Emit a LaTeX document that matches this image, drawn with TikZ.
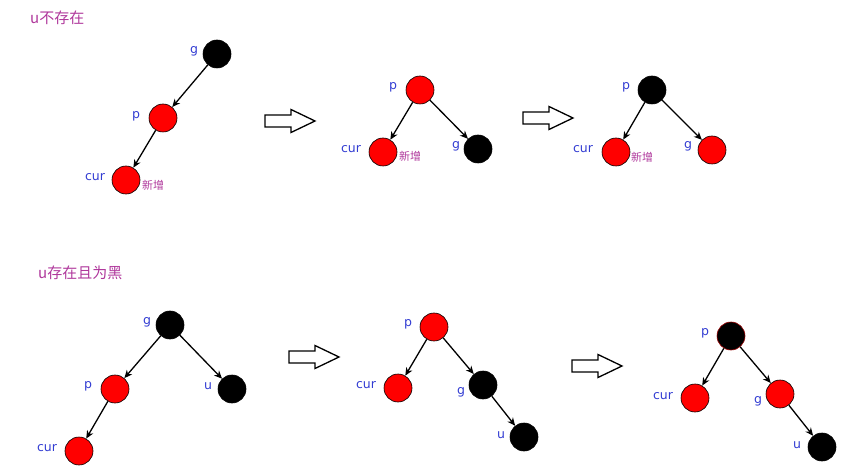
\documentclass[tikz,border=0pt]{standalone}
\usepackage{fontspec}
\newfontfamily\cjk{Noto Sans CJK SC}
\newfontfamily\lat{DejaVu Sans}
\usetikzlibrary{arrows.meta}
\definecolor{lblblue}{RGB}{50,60,210}
\definecolor{ttlpurple}{RGB}{175,55,155}
\tikzset{
  rb/.style={circle,draw=black,line width=0.6pt,minimum size=28pt,inner sep=0pt},
  rednode/.style={rb,fill=red},
  blacknode/.style={rb,fill=black},
  lbl/.style={font=\lat\fontsize{12.5}{12.5}\selectfont,text=lblblue,inner sep=0pt},
  newlbl/.style={font=\cjk\fontsize{11}{11}\selectfont,text=ttlpurple,inner sep=0pt},
  ttl/.style={font=\cjk\fontsize{15}{15}\selectfont,text=ttlpurple,inner sep=0pt,anchor=west},
  edge/.style={line width=1.3pt,-{Stealth[length=8pt,width=7pt,inset=2.5pt]}},
  hollow/.pic={\draw[line width=1.3pt,fill=white,line join=miter]
    (-25,-6) -- (1,-6) -- (1,-11.5) -- (25,0) -- (1,11.5) -- (1,6) -- (-25,6) -- cycle;},
}
\begin{document}
\begin{tikzpicture}[x=1pt,y=-1pt]
\useasboundingbox (0,0) rectangle (841,473);
% ---------- titles
\node[ttl] (t1) at (30,18) {u不存在};
\node[ttl] (t2) at (38,273) {u存在且为黑};
% ---------- top-left tree
\node[blacknode] (g1) at (217,54) {};
\node[rednode] (p1) at (163,118) {};
\node[rednode] (c1) at (126,180) {};
\node[lbl] (g1l) at (194,51) {g};
\node[lbl] (p1l) at (136,116) {p};
\node[lbl] (c1l) at (95,177) {cur};
\node[newlbl] (n1) at (153,185) {新增};
\draw[edge] (g1) -- (p1);
\draw[edge] (p1) -- (c1);
% ---------- arrow 1
\pic (a1) at (290,121) {hollow};
% ---------- top-middle tree
\node[rednode] (p2) at (420,90) {};
\node[rednode] (c2) at (383,152) {};
\node[blacknode] (g2) at (478,149) {};
\node[lbl] (p2l) at (393,87) {p};
\node[lbl] (c2l) at (351,149) {cur};
\node[lbl] (g2l) at (456,146) {g};
\node[newlbl] (n2) at (410,156) {新增};
\draw[edge] (p2) -- (c2);
\draw[edge] (p2) -- (g2);
% ---------- arrow 2
\pic (a2) at (548,118) {hollow};
% ---------- top-right tree
\node[blacknode] (p3) at (652,90) {};
\node[rednode] (c3) at (616,152) {};
\node[rednode] (g3) at (712,150) {};
\node[lbl] (p3l) at (626,87) {p};
\node[lbl] (c3l) at (583,149) {cur};
\node[lbl] (g3l) at (688,146) {g};
\node[newlbl] (n3) at (642,157) {新增};
\draw[edge] (p3) -- (c3);
\draw[edge] (p3) -- (g3);
% ---------- bottom-left tree
\node[blacknode] (g4) at (170,325) {};
\node[rednode] (p4) at (115,389) {};
\node[blacknode] (u4) at (232,389) {};
\node[rednode] (c4) at (79,451) {};
\node[lbl] (g4l) at (147,322) {g};
\node[lbl] (p4l) at (88,386) {p};
\node[lbl] (u4l) at (208,386) {u};
\node[lbl] (c4l) at (47,448) {cur};
\draw[edge] (g4) -- (p4);
\draw[edge] (g4) -- (u4);
\draw[edge] (p4) -- (c4);
% ---------- arrow 3
\pic (a3) at (314,357) {hollow};
% ---------- bottom-middle tree
\node[rednode] (p5) at (434,327) {};
\node[rednode] (c5) at (398,388) {};
\node[blacknode] (g5) at (483,385) {};
\node[blacknode] (u5) at (524,437) {};
\node[lbl] (p5l) at (408,324) {p};
\node[lbl] (c5l) at (366,385) {cur};
\node[lbl] (g5l) at (461,392) {g};
\node[lbl] (u5l) at (501,435) {u};
\draw[edge] (p5) -- (c5);
\draw[edge] (p5) -- (g5);
\draw[edge] (g5) -- (u5);
% ---------- arrow 4
\pic (a4) at (597,366) {hollow};
% ---------- bottom-right tree
\node[blacknode,draw=red!60!black] (p6) at (731,336) {};
\node[rednode] (c6) at (695,398) {};
\node[rednode] (g6) at (780,394) {};
\node[blacknode] (u6) at (822,447) {};
\node[lbl] (p6l) at (705,333) {p};
\node[lbl] (c6l) at (663,396) {cur};
\node[lbl] (g6l) at (758,401) {g};
\node[lbl] (u6l) at (797,445) {u};
\draw[edge] (p6) -- (c6);
\draw[edge] (p6) -- (g6);
\draw[edge] (g6) -- (u6);
\end{tikzpicture}
\end{document}
